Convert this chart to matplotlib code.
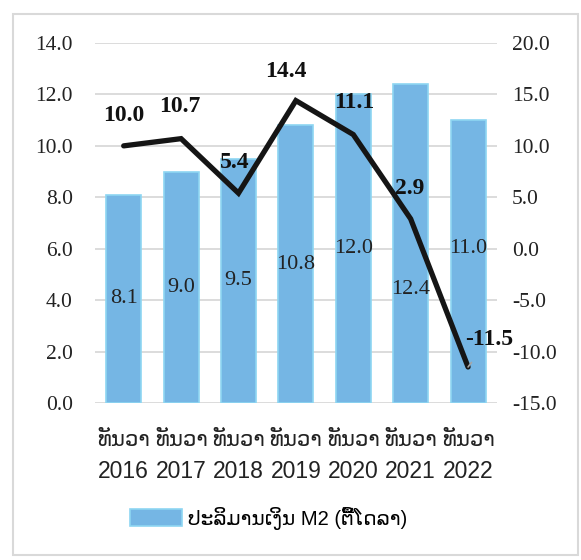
import matplotlib
matplotlib.use("Agg")
import matplotlib.pyplot as plt
from matplotlib.patches import Rectangle

# data
years = ["2016", "2017", "2018", "2019", "2020", "2021", "2022"]
month_label = "ທັນວາ"
m2_values = [8.1, 9.0, 9.5, 10.8, 12.0, 12.4, 11.0]       # bars, left axis
growth_values = [10.0, 10.7, 5.4, 14.4, 11.1, 2.9, -11.5]  # line, right axis
legend_label = "ປະລິມານເງິນ M2 (ຕື້ໂດລາ)"

serif = ["Liberation Serif", "DejaVu Serif"]
sans = ["Liberation Sans", "DejaVu Sans"]

fig = plt.figure(figsize=(5.81, 5.6), dpi=100)
ax = fig.add_axes([0.1635, 0.2804, 0.6915, 0.6428])
ax2 = ax.twinx()

x = list(range(len(years)))
bars = ax.bar(x, m2_values, width=0.61, color="#75B6E4", edgecolor="#8ED6F2",
              linewidth=1.2, zorder=2, label=legend_label)
ax.set_xlim(-0.5, len(years) - 0.5)
ax.set_ylim(0, 14)
ax.set_yticks([0, 2, 4, 6, 8, 10, 12, 14])
ax.set_yticklabels(["%.1f" % v for v in ax.get_yticks()], fontfamily=serif, fontsize=15.5)
ax.yaxis.grid(True, color="#D9D9D9", linewidth=1.3, zorder=0)
ax.set_axisbelow(True)
ax.tick_params(axis="y", length=0, pad=16, colors="#222222")
ax.tick_params(axis="x", length=0, pad=41)
ax.set_xticks(x)
ax.set_xticklabels(years, fontfamily=sans, fontsize=16.5, color="#222222")
# Lao month name on the first line of each category label
for i in x:
    ax.text(i, -0.103, month_label, transform=ax.get_xaxis_transform(),
            ha="center", va="center", fontfamily=sans, fontsize=15.3, color="#222222")
for s in ax.spines.values():
    s.set_visible(False)

# bar value labels (middle of bar, two moved to clear the line)
label_y = {5: 4.4, 6: 6.0}
for i, v in enumerate(m2_values):
    ax.text(i, label_y.get(i, v / 2), "%.1f" % v, ha="center", va="center",
            fontfamily=serif, fontsize=16, color="#222222", zorder=4)

ax2.plot(x, growth_values, color="#151515", linewidth=3.8, zorder=5,
         solid_joinstyle="miter", solid_capstyle="round")
ax2.set_ylim(-15, 20)
ax2.set_yticks([-15, -10, -5, 0, 5, 10, 15, 20])
ax2.set_yticklabels(["%.1f" % v for v in ax2.get_yticks()], fontfamily=serif, fontsize=15.5)
ax2.tick_params(axis="y", length=0, pad=11, colors="#222222")
for s in ax2.spines.values():
    s.set_visible(False)

# line value labels
offsets = {0: (0, 22), 1: (-1, 23), 2: (-3, 22), 3: (-7, 21), 4: (1, 23), 5: (-1, 22)}
for i, v in enumerate(growth_values):
    if i in offsets:
        ax2.annotate("%.1f" % v, (i, v), xytext=offsets[i], textcoords="offset points",
                     ha="center", va="center", fontfamily=serif, fontsize=17,
                     fontweight="bold", color="#111111", zorder=6)
ax2.annotate("%.1f" % growth_values[6], (6, growth_values[6]), xytext=(15, 20),
             textcoords="offset points", ha="center", va="center",
             fontfamily=serif, fontsize=17, fontweight="bold", color="#111111",
             arrowprops=dict(arrowstyle="-", color="#A6A6A6", lw=1.2,
                             shrinkA=9, shrinkB=0), zorder=6)

fig.legend(handles=[bars], labels=[legend_label], loc="center",
           bbox_to_anchor=(0.462, 0.075), frameon=False, handlelength=2.6,
           handleheight=0.9, handletextpad=0.3,
           prop={"family": sans, "size": 14.5})

# light frame around the whole chart
fig.patches.append(Rectangle((0.0224, 0.009), 0.972, 0.966, transform=fig.transFigure,
                             fill=False, edgecolor="#D9D9D9", linewidth=1.5))

fig.savefig("out.png", dpi=100)
